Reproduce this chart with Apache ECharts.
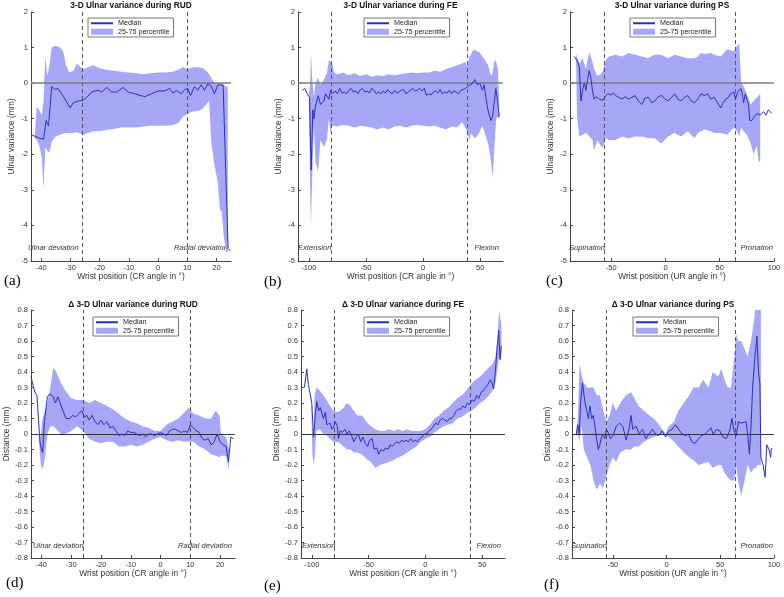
<!DOCTYPE html>
<html>
<head>
<meta charset="utf-8">
<script src="https://cdn.jsdelivr.net/npm/echarts@6/dist/echarts.min.js"></script>
<style>
html, body { margin: 0; padding: 0; background: #fff; }
#main { width: 784px; height: 597px; }
</style>
</head>
<body>
<div id="main"></div>
<script>
// tick labels
var rudTicks = [-40, -30, -20, -10, 0, 10, 20];
var feTicks = [-100, -50, 0, 50];
var psTicks = [-50, 0, 50, 100];
var uvTicks = [-5, -4, -3, -2, -1, 0, 1, 2];
var distTicks = [-0.8, -0.7, -0.6, -0.5, -0.4, -0.3, -0.2, -0.1, 0, 0.1, 0.2, 0.3, 0.4, 0.5, 0.6, 0.7, 0.8];

// (a) ulnar variance during RUD: median [x, y], band [x, p25, p75]
var rudMedian = [[-43.3,-1.45],[-42,-1.5],[-40.5,-1.55],[-39.2,-1.58],[-38.3,-1.05],[-37.5,-1.2],[-36.4,-0.1],[-35.2,-0.18],[-34.3,-0.15],[-33,-0.3],[-31.5,-0.5],[-30.1,-0.7],[-29,-0.55],[-27.3,-0.5],[-25.6,-0.48],[-24.4,-0.4],[-22.7,-0.25],[-21.6,-0.22],[-20.5,-0.2],[-19.3,-0.25],[-17.6,-0.12],[-15.9,-0.25],[-14.2,-0.25],[-11.9,-0.12],[-10.2,-0.25],[-8,-0.3],[-4.5,-0.38],[-2.3,-0.3],[0,-0.22],[2.3,-0.22],[4,-0.15],[5.1,-0.28],[6.3,-0.2],[8,-0.3],[9.1,-0.18],[10.2,-0.15],[11.1,-0.35],[12.5,-0.1],[13.6,-0.2],[14.8,-0.05],[15.9,-0.2],[17,-0.02],[18.2,-0.08],[19.3,-0.3],[20.5,-0.05],[21.6,-0.05],[22.3,-0.05],[24,-4.65],[24.8,-4.72]];
var rudBand = [[-42.2,-1.55,-1.45],[-41.5,-1.6,-0.65],[-40.5,-1.8,-0.8],[-39.8,-2.1,-0.9],[-39.2,-2.95,-0.5],[-38.6,-1.8,0.75],[-37.9,-1.9,0.2],[-37.2,-1.95,0.5],[-36.4,-1.65,1.0],[-35,-1.5,1.05],[-33.5,-1.45,1.0],[-32.5,-1.42,0.9],[-31.5,-1.4,0.5],[-30.4,-1.4,0.3],[-29,-1.4,0.35],[-27.8,-1.38,0.55],[-26.5,-1.42,0.45],[-25.5,-1.45,0.4],[-24,-1.4,0.45],[-22.2,-1.35,0.5],[-20,-1.35,0.42],[-17.5,-1.32,0.38],[-15,-1.28,0.35],[-12.5,-1.25,0.32],[-10,-1.25,0.3],[-7.5,-1.25,0.28],[-5,-1.22,0.25],[-2.5,-1.2,0.28],[0,-1.2,0.3],[2.5,-1.2,0.3],[5,-1.18,0.32],[7,-1.12,0.38],[8.5,-0.95,0.45],[10.2,-0.85,0.4],[12,-0.8,0.45],[13.8,-0.78,0.45],[15.3,-0.72,0.42],[16.5,-0.6,0.35],[17.5,-0.5,0.25],[18.2,-1.6,0.15],[19.3,-2.3,0.02],[20.5,-2.8,0.0],[21.2,-3.55,0.0],[21.8,-3.6,0.0],[22.5,-4.3,-0.05],[23.3,-4.75,-0.1],[23.9,-4.75,-0.1]];

// (b) ulnar variance during FE
var feMedian = [[-105.8,-0.2],[-103.5,-0.15],[-101.5,-0.3],[-99.4,-0.4],[-98,-2.45],[-96.5,-0.75],[-95.6,-1.0],[-94.2,-0.65],[-92.7,-0.6],[-91.8,-0.35],[-89.8,-0.6],[-86.8,-0.5],[-85.4,-0.3],[-83.9,-0.25],[-82.5,-0.45],[-81,-0.2],[-79.5,-0.3],[-77,-0.22],[-75,-0.3],[-73,-0.15],[-71,-0.28],[-69,-0.25],[-67,-0.3],[-65,-0.2],[-63,-0.15],[-61,-0.25],[-59,-0.22],[-57,-0.3],[-55,-0.18],[-53,-0.15],[-51,-0.25],[-49,-0.22],[-47,-0.28],[-45,-0.15],[-43,-0.2],[-41,-0.3],[-39,-0.25],[-37,-0.3],[-35,-0.22],[-33,-0.28],[-31,-0.18],[-29,-0.25],[-27,-0.3],[-25,-0.2],[-23,-0.28],[-21,-0.25],[-19,-0.2],[-17,-0.18],[-15,-0.3],[-13,-0.25],[-11,-0.2],[-9,-0.15],[-7,-0.22],[-5,-0.2],[-3,-0.15],[-1,-0.22],[1,-0.15],[3,-0.35],[5,-0.3],[7,-0.33],[9,-0.25],[11,-0.22],[13,-0.28],[15,-0.18],[17,-0.3],[19,-0.25],[21,-0.28],[23,-0.2],[25,-0.3],[27,-0.22],[29,-0.25],[31,-0.3],[33,-0.2],[35,-0.18],[37,-0.15],[39,-0.1],[41,-0.05],[43,-0.02],[45.3,0.1],[47.7,-0.05],[49.7,0.0],[52,-0.2],[53.5,-0.05],[56.4,-0.7],[59.4,-1.05],[60.8,-0.95],[62.5,-0.5],[63.7,-0.15],[65.2,-0.5],[66.7,-0.95]];
var feBand = [[-100,-0.5,-0.3],[-98.8,-3.0,0.0],[-98.2,-4.05,0.85],[-97.2,-2.8,0.2],[-95.6,-1.2,-0.4],[-94.2,-2.2,0.0],[-92,-2.5,0.15],[-89.8,-1.6,-0.05],[-86.8,-1.8,0.1],[-84,-1.55,0.3],[-82.5,-1.0,0.65],[-81,-1.4,0.6],[-79.5,-1.2,0.55],[-78,-1.2,0.3],[-75,-1.22,0.25],[-70,-1.18,0.3],[-65,-1.2,0.22],[-60,-1.25,0.28],[-55,-1.2,0.2],[-50,-1.22,0.25],[-45,-1.25,0.18],[-40,-1.3,0.22],[-35,-1.25,0.2],[-30,-1.3,0.25],[-25,-1.22,0.22],[-20,-1.2,0.25],[-15,-1.25,0.28],[-10,-1.2,0.3],[-5,-1.18,0.28],[0,-1.2,0.3],[5,-1.22,0.3],[10,-1.2,0.35],[15,-1.25,0.32],[20,-1.3,0.4],[25,-1.22,0.45],[30,-1.25,0.5],[34,-1.1,0.55],[37,-1.25,0.6],[38.5,-1.35,0.45],[40.5,-1.6,0.75],[42,-1.4,0.8],[44,-1.5,0.95],[46,-1.55,0.92],[49,-1.4,0.88],[52,-1.2,0.75],[55,-1.5,0.6],[57,-1.7,0.5],[59.5,-2.2,0.2],[61,-2.65,0.3],[62.5,-1.8,0.65],[64,-1.0,0.6],[65.5,-0.95,0.4],[66.7,-1.0,-0.55]];

// (c) ulnar variance during PS
var psMedian = [[-84,0.75],[-82.4,0.8],[-80.9,0.6],[-79.4,0.45],[-77.9,-0.5],[-76.4,-0.2],[-74.8,0.0],[-73.3,-0.2],[-71.8,0.1],[-70.3,0.35],[-68.8,0.15],[-67.3,-0.2],[-65.8,-0.45],[-64,-0.38],[-62.7,-0.35],[-61,-0.45],[-59.7,-0.42],[-58,-0.48],[-56.7,-0.5],[-55,-0.35],[-53,-0.3],[-50,-0.33],[-48,-0.28],[-46,-0.35],[-43,-0.4],[-40,-0.45],[-37,-0.38],[-34,-0.45],[-31,-0.4],[-28,-0.35],[-25,-0.5],[-21.8,-0.6],[-19,-0.42],[-15.8,-0.4],[-12.7,-0.55],[-9.7,-0.5],[-6.6,-0.38],[-3.6,-0.35],[-0.5,-0.45],[2.4,-0.5],[5.5,-0.4],[8.5,-0.3],[11.5,-0.45],[14.5,-0.5],[17.5,-0.4],[20.6,-0.35],[23.6,-0.5],[26.7,-0.55],[29.7,-0.45],[32.7,-0.3],[35.8,-0.35],[38.8,-0.3],[41.8,-0.45],[44.8,-0.4],[47.9,-0.55],[50.9,-0.7],[53.2,-0.55],[55.5,-0.45],[58,-0.4],[60,-0.3],[63,-0.25],[64.5,-0.45],[66,-0.3],[67.6,-0.2],[69.7,-0.15],[71,-0.35],[72,-0.55],[73.5,-0.3],[75,-0.45],[76.5,-0.6],[77.6,-1.05],[79.5,-1.05],[81.2,-1.0],[84.2,-0.85],[87.3,-0.9],[90.3,-0.8],[92.7,-0.9],[94.8,-0.75],[96.5,-0.8],[97.9,-0.85]];
var psBand = [[-82.4,0.7,0.82],[-81.5,-0.95,0.75],[-79.4,-1.5,0.55],[-76.4,-1.45,0.7],[-73.3,-1.4,0.4],[-71.5,-1.45,0.7],[-70.3,-1.5,0.87],[-67.3,-1.6,0.6],[-65.8,-1.9,0.4],[-62.7,-1.6,0.2],[-60,-1.75,0.25],[-57.5,-1.8,0.35],[-55,-1.55,0.65],[-52,-1.6,0.75],[-46,-1.6,0.8],[-40,-1.5,0.75],[-34,-1.55,0.85],[-28,-1.5,0.8],[-22,-1.5,0.75],[-16,-1.55,0.7],[-10,-1.55,0.8],[-4,-1.7,0.8],[2.4,-1.5,0.7],[8.5,-1.4,0.8],[14.5,-1.5,0.75],[20.6,-1.35,0.7],[26.7,-1.55,0.7],[29.7,-1.4,0.75],[32.7,-1.35,0.85],[35.8,-1.3,0.82],[41.8,-1.35,0.85],[45,-1.4,0.8],[50.9,-1.4,0.75],[57,-1.45,0.95],[63,-1.25,0.9],[66,-1.35,1.05],[68,-1.5,1.1],[69.7,-1.25,0.05],[72,-1.35,-0.1],[75,-1.45,-0.3],[78.5,-1.7,-0.6],[81.2,-2.0,-0.5],[84.2,-1.75,-0.4],[85.8,-2.2,-0.35],[87.3,-2.2,-0.3]];

// (d) change of ulnar variance during RUD
var drudMedian = [[-43.5,0.37],[-43,0.33],[-42.2,0.27],[-41.5,0.25],[-41,0.25],[-40.5,-0.05],[-40,-0.1],[-39.6,-0.12],[-39,0.08],[-38,0.24],[-37.2,0.26],[-36,0.24],[-35.3,0.2],[-34.5,0.24],[-33.7,0.2],[-32.8,0.15],[-31.7,0.1],[-30.6,0.1],[-29.5,0.12],[-28.5,0.11],[-27.5,0.13],[-26.5,0.15],[-25.5,0.11],[-24.8,0.12],[-24,0.09],[-23,0.12],[-22,0.08],[-21,0.06],[-20,0.09],[-19,0.06],[-18,0.08],[-17,0.04],[-16,0.05],[-15,0.02],[-14,-0.01],[-13,0.0],[-12,-0.01],[-11,0.02],[-10,0.01],[-9,0.01],[-8,0.0],[-7,-0.01],[-6,0.0],[-5,-0.02],[-4,0.0],[-3,0.0],[-2,-0.01],[-1,0.0],[0,0.01],[1,0.0],[2,-0.01],[3,0.02],[4,0.03],[5,0.03],[6,0.02],[7,0.01],[8,0.02],[9,0.01],[10,0.06],[11,0.04],[12,0.02],[13,0.01],[14,-0.03],[15,-0.04],[16,-0.03],[17,-0.07],[18,-0.05],[19,0.0],[20,-0.05],[21,-0.07],[22,-0.08],[22.8,-0.18],[23.6,-0.02],[24.5,-0.03]];
var drudBand = [[-40.8,-0.05,-0.05],[-40.2,-0.2,0.0],[-39.6,-0.23,0.1],[-38.8,-0.15,0.15],[-38,0.0,0.2],[-37,0.05,0.3],[-36,0.05,0.43],[-35,0.03,0.4],[-33.5,0.0,0.33],[-32,0.0,0.28],[-30,0.02,0.23],[-28,0.05,0.22],[-26,0.02,0.22],[-24,-0.03,0.2],[-22,-0.05,0.22],[-20,-0.06,0.2],[-18,-0.05,0.18],[-16,-0.05,0.16],[-14,-0.08,0.13],[-12,-0.08,0.1],[-10,-0.07,0.08],[-8,-0.08,0.07],[-6,-0.07,0.05],[-4,-0.05,0.04],[-2,-0.03,0.02],[0,-0.02,0.02],[2,-0.04,0.06],[4,-0.05,0.08],[6,-0.04,0.1],[8,-0.05,0.14],[9.5,-0.05,0.17],[11,-0.05,0.13],[13,-0.08,0.12],[15,-0.1,0.1],[17,-0.13,0.1],[18.5,-0.14,0.15],[19.8,-0.15,0.12],[20.3,-0.14,0.0],[22,-0.14,-0.02],[23,-0.23,-0.1]];

// (e) change of ulnar variance during FE
var dfeMedian = [[-106.5,0.3],[-104.4,0.42],[-103,0.32],[-100,0.2],[-98.5,-0.02],[-97,0.12],[-95.6,0.21],[-94,0.15],[-92.5,0.17],[-91,0.13],[-89.7,0.1],[-88,0.14],[-86.8,0.06],[-85.3,0.05],[-83.8,0.07],[-82.4,0.03],[-80.5,0.05],[-79.4,0.08],[-77.5,0.05],[-76.5,-0.03],[-75,0.02],[-73,0.01],[-71,0.03],[-69,0.0],[-67,0.02],[-65,-0.01],[-63,-0.05],[-61,-0.02],[-59,0.0],[-57,-0.05],[-55,-0.02],[-53,-0.06],[-51,-0.08],[-49,-0.04],[-47,-0.03],[-45,-0.1],[-43,-0.09],[-41,-0.13],[-39,-0.1],[-37,-0.11],[-35,-0.09],[-33,-0.1],[-31,-0.07],[-29,-0.08],[-27,-0.06],[-25,-0.05],[-23,-0.06],[-21,-0.04],[-19,-0.05],[-17,-0.04],[-15,-0.05],[-13,-0.03],[-11,-0.05],[-9,-0.04],[-7,-0.05],[-5,-0.03],[-3,-0.02],[-1,0.0],[1,0.0],[3,0.02],[5,0.03],[7,0.05],[9,0.07],[11,0.06],[13,0.09],[15,0.1],[17,0.09],[19,0.08],[21,0.1],[23,0.1],[25,0.12],[27,0.15],[29,0.16],[31,0.16],[33,0.18],[35,0.17],[37,0.2],[39,0.19],[41,0.22],[43,0.21],[45,0.25],[47,0.23],[49,0.27],[51,0.28],[53,0.3],[55,0.32],[57,0.35],[58.5,0.33],[60,0.29],[61.5,0.4],[63,0.55],[64.5,0.67],[65.6,0.48],[66.8,0.57]];
var dfeBand = [[-100.5,0.18,0.22],[-99.5,-0.12,0.05],[-98.5,-0.2,-0.02],[-97.5,-0.15,0.25],[-96,0.02,0.3],[-93,0.03,0.28],[-90,0.0,0.25],[-87,-0.01,0.22],[-84,-0.03,0.18],[-81,-0.05,0.15],[-78,-0.05,0.14],[-75,-0.06,0.15],[-72,-0.08,0.17],[-69,-0.1,0.2],[-66,-0.1,0.18],[-63,-0.12,0.15],[-60,-0.12,0.12],[-56,-0.13,0.12],[-52,-0.16,0.08],[-48,-0.18,0.05],[-44,-0.22,0.03],[-40,-0.2,0.02],[-36,-0.19,0.02],[-32,-0.18,0.03],[-28,-0.17,0.02],[-24,-0.15,0.03],[-20,-0.14,0.02],[-16,-0.12,0.03],[-12,-0.1,0.02],[-8,-0.08,0.02],[-4,-0.05,0.02],[0,-0.03,0.03],[4,-0.02,0.06],[8,0.01,0.1],[12,0.03,0.12],[16,0.05,0.15],[20,0.06,0.17],[24,0.07,0.2],[28,0.1,0.23],[32,0.11,0.25],[36,0.13,0.28],[40,0.15,0.32],[44,0.17,0.35],[48,0.2,0.37],[52,0.22,0.4],[56,0.25,0.43],[59,0.28,0.45],[61.5,0.33,0.5],[63.5,0.42,0.62],[64.7,0.5,0.8],[66.8,0.48,0.7]];

// (f) change of ulnar variance during PS
var dpsMedian = [[-84,0.0],[-82.6,0.06],[-81.3,0.0],[-79.8,0.22],[-78.3,0.33],[-76.8,0.25],[-75.8,0.2],[-74.3,0.15],[-72.8,0.1],[-71.3,0.18],[-69.7,0.1],[-68.2,0.12],[-66.7,0.05],[-65.1,0.05],[-63.6,-0.1],[-62.1,-0.07],[-60.6,-0.02],[-59,0.0],[-57.5,-0.03],[-56,0.03],[-54.4,0.01],[-52.3,-0.03],[-49.8,-0.01],[-46.8,0.05],[-43.7,0.07],[-40.7,0.05],[-37.6,-0.04],[-35.2,0.02],[-33,0.12],[-31.5,0.03],[-28.4,0.05],[-25.4,0.0],[-22.3,0.03],[-19.3,-0.03],[-16.2,0.0],[-13.1,0.03],[-10.1,0.0],[-7,-0.01],[-4,0.02],[-0.9,-0.02],[2.1,0.02],[5.2,0.03],[8.3,0.06],[11.3,0.03],[14.4,0.0],[17.4,-0.01],[20.5,0.0],[23.5,-0.05],[26.6,-0.06],[29.7,-0.03],[32.7,-0.01],[35.8,0.0],[38.8,0.02],[41.3,0.04],[43.4,0.0],[46.5,0.03],[49.5,0.02],[52.6,-0.02],[55.7,-0.03],[58.7,0.02],[60.9,0.1],[62.7,0.02],[64.8,-0.01],[67,0.08],[69.4,0.07],[70.9,0.06],[74,0.08],[75.5,0.0],[77.1,-0.13],[78.6,0.05],[80.1,0.3],[82.3,0.5],[84.1,0.63],[85.6,0.4],[86.9,0.32],[87.8,-0.15],[89.9,-0.2],[91.7,-0.28],[93.3,-0.07],[94.5,-0.06],[95.4,-0.1],[96.9,-0.15],[97.6,-0.09]];
var dpsBand = [[-84,-0.02,0.02],[-82.6,0.0,0.1],[-81,-0.05,0.45],[-79,0.05,0.38],[-77,-0.1,0.33],[-74,-0.15,0.3],[-71,-0.2,0.3],[-68,-0.3,0.3],[-65,-0.36,0.25],[-62,-0.32,0.25],[-59,-0.35,0.15],[-56,-0.27,0.08],[-53,-0.2,0.12],[-50,-0.15,0.2],[-47,-0.18,0.15],[-43,-0.12,0.2],[-38,-0.1,0.25],[-33,-0.1,0.27],[-30,-0.08,0.23],[-26,-0.08,0.18],[-21,-0.05,0.15],[-16,-0.03,0.12],[-12,-0.02,0.1],[-8,-0.01,0.07],[-4,0.0,0.03],[-1,0.0,0.0],[2,-0.02,0.05],[7,-0.05,0.08],[11,-0.08,0.15],[16,-0.12,0.2],[21,-0.15,0.25],[25,-0.17,0.3],[30,-0.2,0.3],[34,-0.19,0.35],[39,-0.18,0.3],[43,-0.22,0.4],[48,-0.2,0.37],[51,-0.2,0.42],[54,-0.25,0.35],[57,-0.28,0.3],[60,-0.3,0.3],[63,-0.3,0.5],[64.8,-0.2,0.65],[66.5,-0.3,0.6],[69.5,-0.4,0.6],[72.5,-0.3,0.55],[75.5,-0.2,0.5],[78.6,-0.25,0.6],[81.7,-0.22,0.75],[83,-0.22,0.85],[85,-0.2,0.9],[87.8,-0.2,0.9]];

var BAND = '#a7a7f7';
var MED = '#2e2eb8';
var FONT = 'Liberation Sans';

var panels = [
    {title: '3-D Ulnar variance during RUD', tag: '(a)', med: rudMedian, band: rudBand, xmin: -43.5, xmax: 25, xt: rudTicks, yt: uvTicks, marks: [-26, 10], lo: 'Ulnar deviation', hi: 'Radial deviation',
     left: 31, top: 12, width: 200, height: 249, yname: 'Ulnar variance (mm)', xname: 'Wrist position (CR angle in °)', leg: [88, 18], loX: 28, hiX: 228, tagX: 4, tagY: 281},
    {title: '3-D Ulnar variance during FE', tag: '(b)', med: feMedian, band: feBand, xmin: -109.5, xmax: 70, xt: feTicks, yt: uvTicks, marks: [-80, 39], lo: 'Extension', hi: 'Flexion',
     left: 298, top: 12, width: 205, height: 249, yname: 'Ulnar variance (mm)', xname: 'Wrist position (CR angle in °)', leg: [364, 18], loX: 298, hiX: 499, tagX: 264, tagY: 282},
    {title: '3-D Ulnar variance during PS', tag: '(c)', med: psMedian, band: psBand, xmin: -88, xmax: 100, xt: psTicks, yt: uvTicks, marks: [-56, 64], lo: 'Supination', hi: 'Pronation',
     left: 570, top: 12, width: 204, height: 249, yname: 'Ulnar variance (mm)', xname: 'Wrist position (UR angle in °)', leg: [630, 18], loX: 569, hiX: 773, tagX: 546, tagY: 281},
    {title: 'Δ 3-D Ulnar variance during RUD', tag: '(d)', med: drudMedian, band: drudBand, xmin: -43.5, xmax: 25, xt: rudTicks, yt: distTicks, marks: [-26, 10], lo: 'Ulnar deviation', hi: 'Radial deviation',
     left: 31, top: 310, width: 204, height: 248, yname: 'Distance (mm)', xname: 'Wrist position (CR angle in °)', leg: [93, 317], loX: 33, hiX: 232, tagX: 6, tagY: 583},
    {title: 'Δ 3-D Ulnar variance during FE', tag: '(e)', med: dfeMedian, band: dfeBand, xmin: -109.5, xmax: 70, xt: feTicks, yt: distTicks, marks: [-80, 39], lo: 'Extension', hi: 'Flexion',
     left: 301, top: 310, width: 204, height: 248, yname: 'Distance (mm)', xname: 'Wrist position (CR angle in °)', leg: [364, 317], loX: 302, hiX: 501, tagX: 264, tagY: 586},
    {title: 'Δ 3-D Ulnar variance during PS', tag: '(f)', med: dpsMedian, band: dpsBand, xmin: -88, xmax: 100, xt: psTicks, yt: distTicks, marks: [-56, 64], lo: 'Supination', hi: 'Pronation',
     left: 572, top: 310, width: 202, height: 248, yname: 'Distance (mm)', xname: 'Wrist position (UR angle in °)', leg: [633, 317], loX: 571, hiX: 773, tagX: 544, tagY: 585}
];

var myChart = echarts.init(document.getElementById('main'));

//25-75 band drawn as one polygon, upper edge then lower edge back
function bandRender(band) {
    return function (params, api) {
        if (params.dataIndex !== 0) return null;
        var pts = [];
        for (var i = 0; i < band.length; i++) pts.push(api.coord([band[i][0], band[i][2]]));
        for (var j = band.length - 1; j >= 0; j--) pts.push(api.coord([band[j][0], band[j][1]]));
        var cs = params.coordSys;
        return {
            type: 'group',
            clipPath: {type: 'rect', shape: {x: cs.x, y: cs.y, width: cs.width, height: cs.height}},
            children: [{type: 'polygon', shape: {points: pts}, style: {fill: BAND, stroke: null}}]
        };
    };
}

function tickFmt(v) {
    return String(Math.round(v * 10) / 10);
}

var grid = [], xAxis = [], yAxis = [], series = [], legend = [], graphic = [];

for (var i = 0; i < panels.length; i++) {
    var p = panels[i];
    var bottomRow = i >= 3;
    grid.push({left: p.left, top: p.top, width: p.width, height: p.height, outerBoundsMode: 'none'});
    xAxis.push({
        type: 'value', gridIndex: i, min: p.xmin, max: p.xmax,
        name: p.xname, nameLocation: 'middle', nameGap: bottomRow ? 12 : 11,
        nameTextStyle: {fontSize: 8.4, color: '#333', fontFamily: FONT},
        axisLine: {show: true, onZero: false, lineStyle: {color: '#444', width: 1}},
        axisTick: {show: true, inside: true, length: 3, customValues: p.xt, lineStyle: {color: '#444'}},
        axisLabel: {customValues: p.xt, fontSize: 7.5, color: '#333', margin: 3, fontFamily: FONT},
        splitLine: {show: false}
    });
    yAxis.push({
        type: 'value', gridIndex: i, min: p.yt[0], max: p.yt[p.yt.length - 1],
        name: p.yname, nameLocation: 'middle', nameGap: bottomRow ? 20 : 15, nameRotate: 90,
        nameTextStyle: {fontSize: 8.4, color: '#333', fontFamily: FONT},
        axisLine: {show: true, onZero: false, lineStyle: {color: '#444', width: 1}},
        axisTick: {show: true, inside: true, length: 3, customValues: p.yt, lineStyle: {color: '#444'}},
        axisLabel: {customValues: p.yt, fontSize: 7.5, color: '#333', margin: 3, fontFamily: FONT, formatter: tickFmt},
        splitLine: {show: false}
    });
    series.push({
        type: 'custom', name: '25-75 percentile', xAxisIndex: i, yAxisIndex: i,
        data: p.band, renderItem: bandRender(p.band), itemStyle: {color: BAND}, silent: true, z: 1
    });
    series.push({
        type: 'line', name: 'Median', xAxisIndex: i, yAxisIndex: i, data: p.med,
        symbol: 'none', showSymbol: false, color: MED, itemStyle: {color: MED},
        lineStyle: {color: MED, width: 1}, z: 3, silent: true,
        markLine: {
            symbol: ['none', 'none'], silent: true, label: {show: false}, z: 2,
            data: [
                {xAxis: p.marks[0], lineStyle: {color: '#555', type: [4, 3], width: 1}},
                {xAxis: p.marks[1], lineStyle: {color: '#555', type: [4, 3], width: 1}},
                {yAxis: 0, lineStyle: bottomRow ? {color: '#333', type: 'solid', width: 1} : {color: '#7c7c7c', type: 'solid', width: 1.6}}
            ]
        }
    });
    legend.push({
        left: p.leg[0], top: p.leg[1], orient: 'vertical', selectedMode: false,
        //中位数图例只画线，不画圆点
        data: [{name: 'Median', itemStyle: {opacity: 0}}, {name: '25-75 percentile', icon: 'rect'}],
        itemWidth: 22, itemHeight: 6, itemGap: 0, padding: [1, 4, 1, 2],
        borderColor: '#555', borderWidth: 0.8, backgroundColor: '#fff',
        textStyle: {fontSize: 7.2, color: '#222', fontFamily: FONT, lineHeight: 8.5}
    });
    //标题
    graphic.push({type: 'text', x: p.left + p.width / 2, y: bottomRow ? 304.5 : 6,
        style: {text: p.title, font: 'bold 8.3px "Liberation Sans"', fill: '#111', align: 'center', verticalAlign: 'middle'}});
    //运动方向注释
    var ay = bottomRow ? 546 : 248;
    graphic.push({type: 'text', x: p.loX, y: ay,
        style: {text: p.lo, font: 'italic 7.6px "Liberation Sans"', fill: '#333', align: 'left', verticalAlign: 'middle'}});
    graphic.push({type: 'text', x: p.hiX, y: ay,
        style: {text: p.hi, font: 'italic 7.6px "Liberation Sans"', fill: '#333', align: 'right', verticalAlign: 'middle'}});
    graphic.push({type: 'text', x: p.tagX, y: p.tagY,
        style: {text: p.tag, font: '15px "Liberation Serif"', fill: '#000', align: 'left', verticalAlign: 'middle'}});
}

var option = {
    animation: false,
    backgroundColor: '#fff',
    textStyle: {fontFamily: FONT},
    grid: grid,
    xAxis: xAxis,
    yAxis: yAxis,
    legend: legend,
    series: series,
    graphic: graphic
};

myChart.setOption(option);
</script>
</body>
</html>
